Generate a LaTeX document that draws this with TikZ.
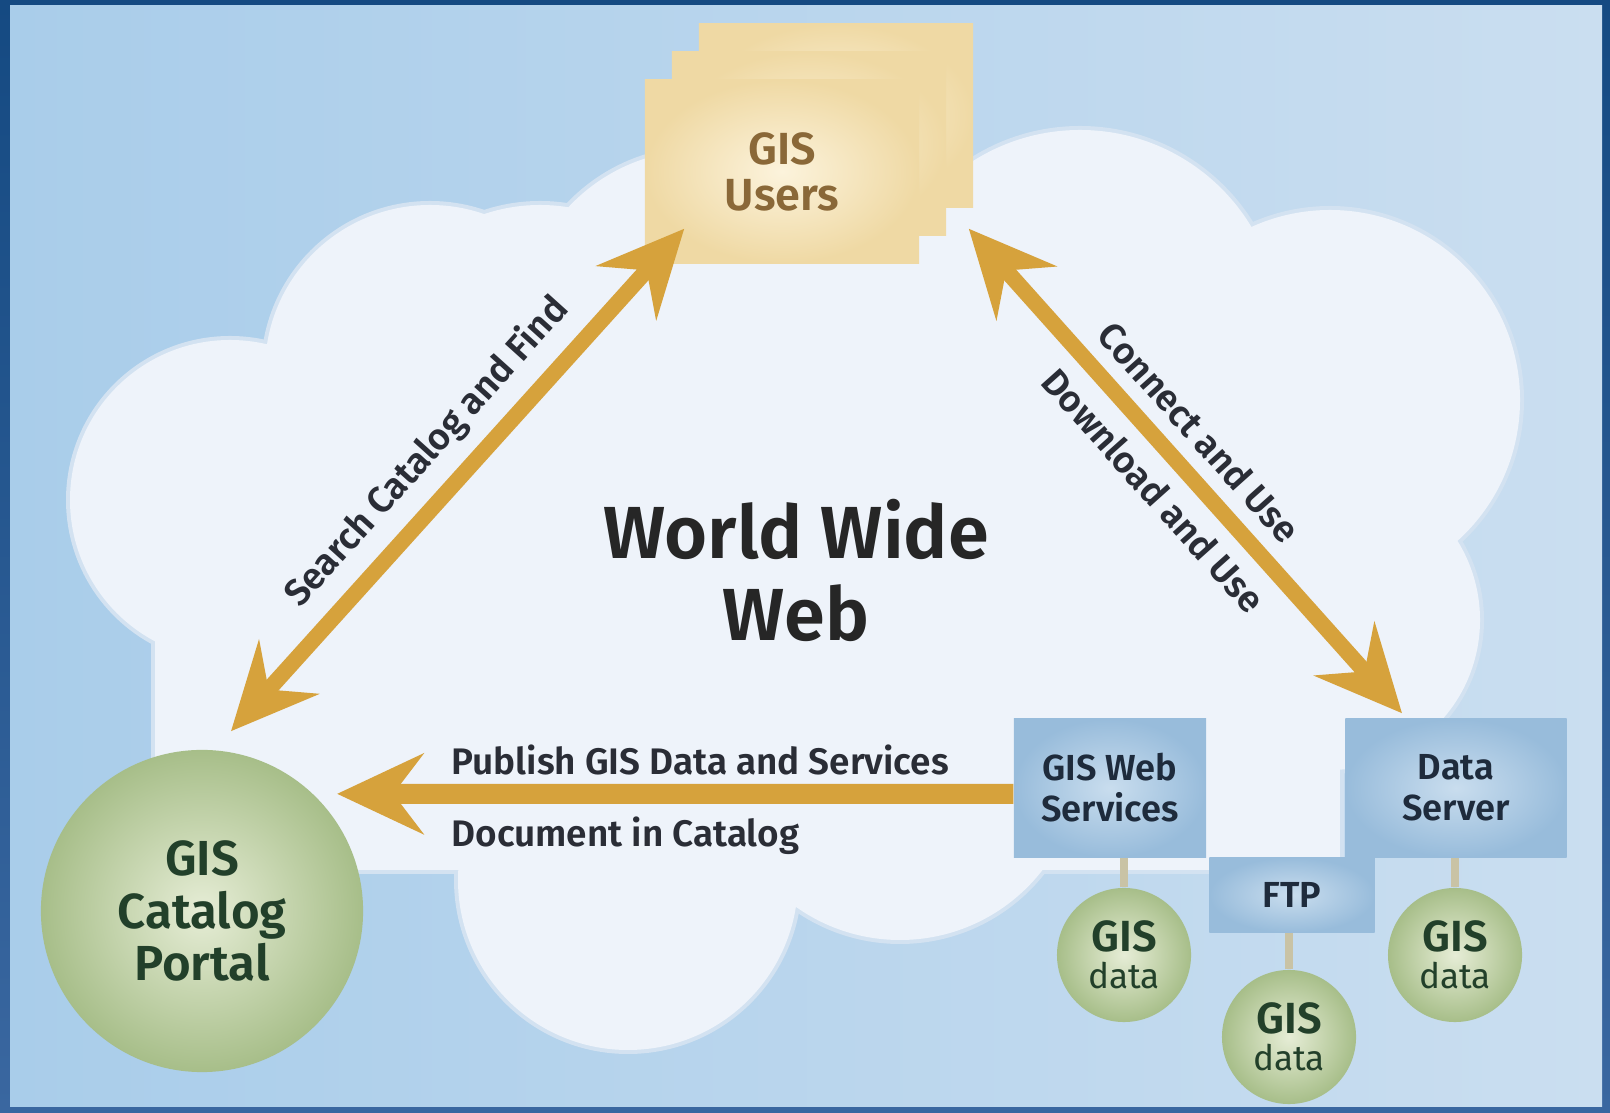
\documentclass[tikz,border=0pt]{standalone}
\usepackage{fontspec}
\IfFontExistsTF{Fira Sans SemiBold}
  {\setmainfont{Fira Sans}[BoldFont={Fira Sans SemiBold}]}
  {\setmainfont{Fira Sans}}
\usepackage{xcolor}
\usepackage{tikz}
\usetikzlibrary{positioning,arrows.meta,calc}

\definecolor{framet}{HTML}{154A82}
\definecolor{frameb}{HTML}{3A67A0}
\definecolor{skyl}{HTML}{A9CDEA}
\definecolor{skyr}{HTML}{CADEF0}
\definecolor{cloud}{HTML}{EEF3FA}
\definecolor{cloudedge}{HTML}{D3E2F1}
\definecolor{gold}{HTML}{D6A23C}
\definecolor{userin}{HTML}{FCF3DC}
\definecolor{userout}{HTML}{EFD9A4}
\definecolor{userfg}{HTML}{8A6838}
\definecolor{bluein}{HTML}{C9DDEE}
\definecolor{blueout}{HTML}{98BCDB}
\definecolor{boxfg}{HTML}{1E2B3C}
\definecolor{greenin}{HTML}{E6EDD6}
\definecolor{greenout}{HTML}{A7BE89}
\definecolor{diskfg}{HTML}{22402A}
\definecolor{labelfg}{HTML}{2A2D36}
\definecolor{stubc}{HTML}{C9C3A5}

\begin{document}
\begin{tikzpicture}[x=0.01cm, y=0.01cm, >={Stealth[length=8.6mm,width=8mm,inset=3mm]},
  ubox/.style={rectangle, minimum width=2.74cm, minimum height=1.83cm, inner color=userin, outer color=userout, text=userfg, align=center, font=\bfseries\fontsize{12.8}{13.1}\selectfont},
  bbox/.style={rectangle, minimum height=1.38cm, inner color=bluein, outer color=blueout, text=boxfg, align=center, font=\bfseries\fontsize{10.3}{11.7}\selectfont},
  disk/.style={circle, minimum size=1.34cm, inner sep=0pt, inner color=greenin, outer color=greenout, text=diskfg, align=center, font=\bfseries\fontsize{12.4}{10.5}\selectfont},
  flow/.style={draw=gold, line width=0.16cm},
  stub/.style={draw=stubc, line width=0.08cm},
  lbl/.style={text=labelfg, inner sep=2pt, font=\bfseries\fontsize{10.5}{11}\selectfont}]
\useasboundingbox (0,0) rectangle (1610,1113);
% frame and sky
\shade[top color=framet, bottom color=frameb] (0,0) rectangle (1610,1113);
\shade[left color=skyl, right color=skyr] (10,6) rectangle (1602,1107);
% cloud
\foreach \cx/\cy/\cr in {230/613/160, 430/743/165, 540/733/175, 700/783/180, 880/733/170, 1080/783/200, 1330/713/190, 1330/493/150, 628/233/170, 900/353/180}
  \fill[cloudedge] (\cx,\cy) circle (\cr+4);
\fill[cloudedge] (151,239) rectangle (1344,704);
\foreach \cx/\cy/\cr in {230/613/160, 430/743/165, 540/733/175, 700/783/180, 880/733/170, 1080/783/200, 1330/713/190, 1330/493/150, 628/233/170, 900/353/180}
  \fill[cloud] (\cx,\cy) circle (\cr);
\fill[cloud] (155,243) rectangle (1340,700);

\node[ubox] (u3) at (836,997.5) {};
\node[ubox] (u2) at (809,969.5) {};
\node[ubox] (u1) at (782,941.5) {GIS\\Users};

\node[font=\bfseries\fontsize{21}{23.3}\selectfont, align=center, text=black!85] (www) at (796,543) {World Wide\\Web};

\node[bbox, minimum width=1.92cm] (gws) at (1110,325) {GIS Web\\Services};
\node[bbox, minimum width=2.21cm] (ds) at (1456,325) {Data\\Server};
\node[bbox, minimum width=1.65cm, minimum height=0.75cm] (ftp) at (1292,218) {FTP};

\node[disk] (d1) at (1124,158) {GIS\\{\mdseries\fontsize{10}{10}\selectfont data}};
\node[disk] (d2) at (1289,76) {GIS\\{\mdseries\fontsize{10}{10}\selectfont data}};
\node[disk] (d3) at (1455,158) {GIS\\{\mdseries\fontsize{10}{10}\selectfont data}};
\draw[stub] (d1.north) -- (d1.north |- gws.south);
\draw[stub] (d2.north) -- (d2.north |- ftp.south);
\draw[stub] (d3.north) -- (d3.north |- ds.south);

\node[disk, minimum size=3.22cm, font=\bfseries\fontsize{14}{15}\selectfont] (portal) at (202,202) {GIS\\Catalog\\Portal};

% the three flows
\draw[flow,<->] ([shift={(29,18)}]portal.north) -- ([shift={(40,35)}]u1.south west)
  node[midway, sloped, above=2pt, lbl] {Search Catalog and Find};
\draw[flow,<->] ([shift={(-5,-21)}]u3.south east) -- ([shift={(-54,5)}]ds.north)
  node[pos=0.47, sloped, above=2pt, lbl] {Connect and Use}
  node[pos=0.49, sloped, below=2pt, lbl] {Download and Use};
\draw[flow,->, line width=0.2cm] ([shift={(0,-6)}]gws.west) -- ([shift={(13,11)}]portal.41)
  node[pos=0.856, anchor=south west, lbl, yshift=0.02cm] {Publish GIS Data and Services}
  node[pos=0.856, anchor=north west, lbl, yshift=-0.06cm] {Document in Catalog};
\end{tikzpicture}
\end{document}
